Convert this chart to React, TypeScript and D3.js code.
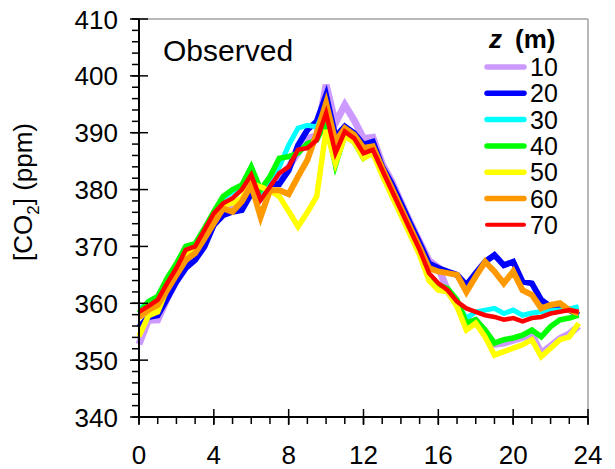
import React from "react";
import * as d3 from "d3";

// hour of day, half-hourly means
const hours = d3.range(0, 24, 0.5);

const co2_10 = [352.8, 357, 357.1, 360.8, 364, 366.5, 368, 370.8, 374, 376.8, 377.5, 378, 380.5, 378.5, 380.8, 382, 384, 386.5, 389, 389.5, 398.4, 391.7, 394.9, 392.2, 389, 389.2, 384.5, 381.5, 377.8, 374.2, 370.8, 367.5, 366.3, 362.2, 359.8, 356.5, 357, 355, 352.8, 353, 353.5, 354, 354.5, 351.2, 352.5, 353.8, 354.6, 356];
const co2_20 = [355.8, 357.6, 357.9, 360.8, 363.8, 366.2, 367.6, 370, 373.8, 375.5, 376.1, 376.4, 379.3, 378.5, 381, 381, 383.4, 387.8, 390.5, 392, 396.6, 389.3, 391.1, 389.9, 387.9, 388.4, 384, 381.1, 377.6, 374, 370.6, 367, 366.2, 365.6, 365, 363.2, 365.3, 367.3, 368.5, 366.7, 367.3, 363.8, 363.5, 360.6, 359.4, 359.4, 358.8, 357.9];
const co2_30 = [359, 360.1, 361.1, 364.2, 366.8, 369.8, 370.4, 373, 376, 378.5, 379.6, 380.5, 382.5, 379.5, 382, 384, 387.8, 390.8, 391.3, 391, 394.5, 386, 390.5, 389.3, 387, 387.3, 383, 379.5, 376, 372.5, 369, 364.5, 362.9, 362, 360, 357.4, 358.5, 358.8, 359.1, 358.2, 358.8, 357.9, 358.3, 358.5, 358.7, 358.8, 359, 359.4];
const co2_40 = [358.3, 360.3, 361.2, 364.4, 367, 370, 370.5, 373.2, 376.1, 378.8, 380, 380.8, 384, 380, 382.3, 385.5, 385.8, 386.4, 388.1, 388.7, 392, 384.3, 389.6, 388.4, 385.5, 386.7, 382.8, 379.3, 375.8, 372.3, 368.8, 364.5, 363.2, 362.6, 360.6, 356.5, 357.1, 355.3, 353, 353.6, 353.9, 354.4, 355.3, 354.1, 355.9, 357.1, 357.4, 357.9];
const co2_50 = [354.2, 357.8, 358.5, 362.5, 365.5, 368.5, 369.5, 372, 375, 377.3, 377.6, 378.5, 381, 380.5, 379.8, 378.8, 376.2, 373.5, 376, 378.8, 390.5, 384.6, 389.3, 388.4, 385.5, 386.4, 382.5, 379, 375.5, 372, 368.5, 364, 362.3, 362, 359.4, 355.3, 356.5, 354.1, 350.9, 351.5, 352.1, 352.7, 353.6, 350.6, 352.1, 353.6, 354.1, 356.5];
const co2_60 = [357.5, 358.8, 359.7, 362.3, 365, 367.6, 368.8, 371.4, 374.1, 376.7, 376.1, 377.9, 380.8, 375.2, 379.9, 379.9, 379.2, 382.3, 385.2, 389.9, 395.2, 388.4, 390.8, 389.6, 387.3, 387.6, 383.8, 380.3, 376.8, 373.3, 369.8, 366.2, 365.6, 365.3, 365, 362, 364.7, 367.3, 365.6, 363.5, 365.6, 362.3, 361.5, 359.1, 359.7, 360, 358.8, 358.2];
const co2_70 = [358.5, 359.5, 360.6, 363.5, 366.2, 369.4, 370, 372.9, 375.8, 377.6, 378.5, 380, 382.6, 378.2, 380.5, 382.9, 384, 387, 387.3, 388.7, 393.4, 386.4, 390.2, 389, 386.4, 387, 383.4, 379.9, 376.4, 372.9, 369.4, 365.3, 363.5, 362.3, 360.3, 359.1, 358.5, 357.9, 357.6, 357.1, 357.4, 356.8, 357.4, 357.6, 358.2, 358.5, 358.8, 358.5];

const depths = ["10", "20", "30", "40", "50", "60", "70"];
const seriesValues = [co2_10, co2_20, co2_30, co2_40, co2_50, co2_60, co2_70];
const colors = ["#cc99ff", "#0000ff", "#00ffff", "#00ff00", "#ffff00", "#ff9900", "#ff0000"];
const widths = [7, 6, 5, 5.5, 5.5, 6, 4.5];

const xTicks = [0, 4, 8, 12, 16, 20, 24];
const yTicks = [340, 350, 360, 370, 380, 390, 400, 410];

const W = 615, H = 469;
const left = 139, right = 588, top = 19, bottom = 417;
const font = "'Liberation Sans', Arial, sans-serif";

export default function App() {
  const x = d3.scaleLinear().domain([0, 24]).range([left, right]);
  const y = d3.scaleLinear().domain([340, 410]).range([bottom, top]);
  const line = d3.line<number>().x((d, i) => x(hours[i])).y(d => y(d));

  const xMinor = d3.range(0, 25, 1);
  const yMinor = d3.range(340, 411, 2);

  return (
    <svg width={W} height={H} style={{ position: "absolute", left: 0, top: 0, background: "#fff" }}
      fontFamily={font}>
      {/* frame top/right */}
      <line x1={left} x2={right} y1={top} y2={top} stroke="#a0a0a0" strokeWidth={1.5} />
      <line x1={right} x2={right} y1={top} y2={bottom} stroke="#a0a0a0" strokeWidth={1.5} />

      {/* data */}
      <g fill="none" strokeLinejoin="miter" strokeLinecap="butt">
        {seriesValues.map((vals, i) => (
          <path key={depths[i]} d={line(vals) || ""} stroke={colors[i]} strokeWidth={widths[i]} />
        ))}
      </g>

      {/* axes */}
      <g stroke="#000" strokeWidth={1.5}>
        {yMinor.map(v => (
          <line key={"ym" + v} x1={left - 7} x2={left} y1={y(v)} y2={y(v)} />
        ))}
        {yTicks.map(v => (
          <line key={"yM" + v} x1={left - 9} x2={left + 9} y1={y(v)} y2={y(v)} />
        ))}
        {xMinor.map(v => (
          <line key={"xm" + v} x1={x(v)} x2={x(v)} y1={bottom} y2={bottom + 7} />
        ))}
        {xTicks.map(v => (
          <line key={"xM" + v} x1={x(v)} x2={x(v)} y1={bottom - 8} y2={bottom + 8} />
        ))}
        <line x1={left} x2={left} y1={top} y2={bottom} strokeWidth={2} />
        <line x1={left} x2={right} y1={bottom} y2={bottom} strokeWidth={2} />
      </g>

      <g fontSize={26} fill="#000">
        {yTicks.map(v => (
          <text key={"yl" + v} x={left - 21} y={y(v) + 9.5} textAnchor="end">{v}</text>
        ))}
        {xTicks.map(v => (
          <text key={"xl" + v} x={x(v)} y={bottom + 47} textAnchor="middle">{v}</text>
        ))}
      </g>

      <text transform={`translate(32,192) rotate(-90)`} textAnchor="middle" fontSize={26}>
        [CO<tspan fontSize={17} dy={7}>2</tspan><tspan dy={-7}>] (ppm)</tspan>
      </text>

      <text x={163} y={61} fontSize={30}>Observed</text>

      {/* legend */}
      <g fontSize={26} fontWeight="bold">
        <text x={489} y={48} fontStyle="italic">z</text>
        <text x={515} y={48}>(m)</text>
      </g>
      {depths.map((d, i) => {
        const ly = 67 + i * 26.3;
        return (
          <g key={"lg" + d}>
            <line x1={487} x2={524} y1={ly} y2={ly} stroke={colors[i]} strokeWidth={i === 6 ? 4 : 5.5}
              strokeLinecap="round" />
            <text x={530} y={ly + 9} fontSize={25}>{d}</text>
          </g>
        );
      })}
    </svg>
  );
}
